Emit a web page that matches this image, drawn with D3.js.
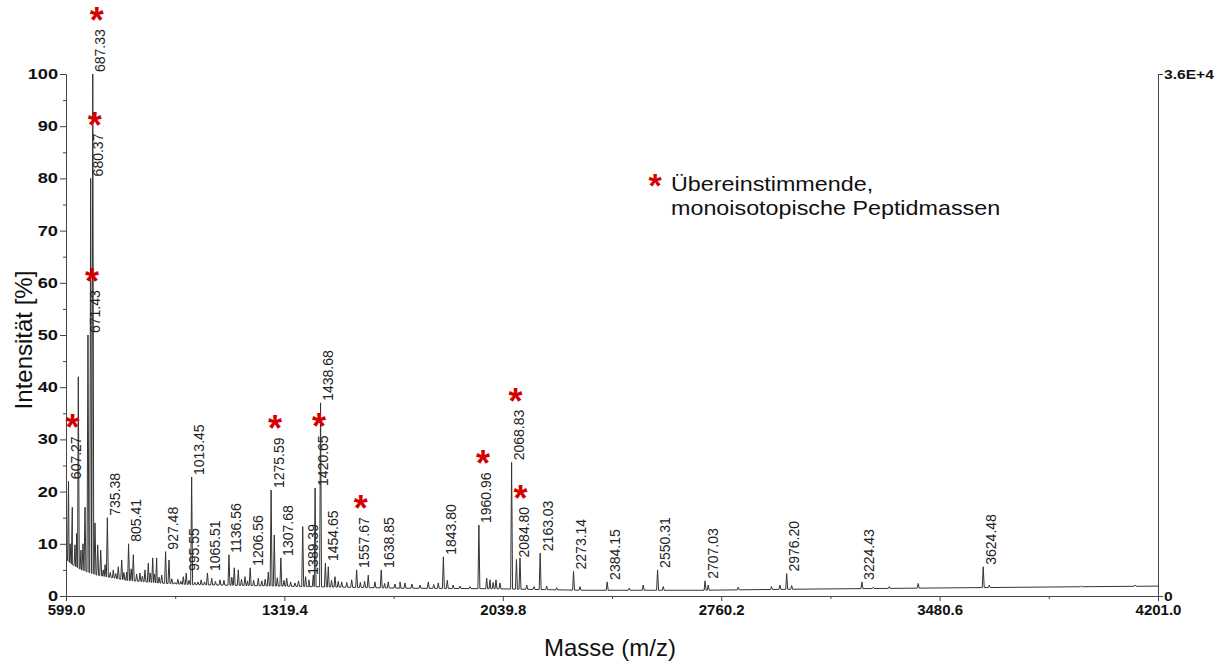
<!DOCTYPE html>
<html>
<head>
<meta charset="utf-8">
<script src="https://cdn.jsdelivr.net/npm/d3@7"></script>
<style>
  body { margin: 0; background: #fff; }
  text { font-family: "Liberation Sans", Arial, sans-serif; }
</style>
</head>
<body>
<div id="chart"></div>
<script>
// Labeled peaks (m/z) and their relative intensity (%)
var labeledMasses = [607.27, 671.43, 680.37, 687.33, 735.38, 805.41, 927.48, 995.55, 1013.45,
  1065.51, 1136.56, 1206.56, 1275.59, 1307.68, 1389.39, 1420.65, 1438.68, 1454.65, 1557.67,
  1638.85, 1843.80, 1960.96, 2068.83, 2084.80, 2163.03, 2273.14, 2384.15, 2550.31, 2707.03,
  2976.20, 3224.43, 3624.48];
var labeledHeights = [22, 50, 80, 100, 15, 10, 8.5, 4.4, 22.8,
  4.4, 7.9, 5.4, 20.3, 7.3, 3.7, 20.7, 37, 6.3, 5,
  5, 7.5, 13.6, 25.6, 7, 8.2, 4.7, 2.7, 5, 2.9,
  4.3, 2.7, 5.6];

// Unlabeled peaks
var otherMasses = [612.5, 619.8, 628.7, 634, 639.6, 648.5, 655, 661.7, 694.7, 703.6, 713.5, 722,
  728, 745, 755, 763, 771.5, 782.7, 790, 799.2, 814, 821, 832, 843, 851, 859.6, 870.5, 877,
  885, 891, 898, 906, 914.7, 938.7, 948, 958.5, 968, 978, 986, 1005, 1024, 1034.4, 1045, 1056,
  1079.6, 1092, 1107, 1120, 1146, 1154, 1167.3, 1178, 1189.4, 1198, 1218, 1233.3, 1245, 1256,
  1266.3, 1286, 1296, 1318, 1327, 1340, 1354.4, 1366, 1379.8, 1400, 1414.7, 1464.2, 1475,
  1486.3, 1497, 1508.4, 1525, 1541.4, 1570, 1584, 1596, 1618, 1650, 1662, 1684, 1700.7, 1717,
  1740, 1766.7, 1794, 1812, 1827, 1856.7, 1876, 1898.6, 1931.6, 1986.7, 1997.6, 2008, 2017.4,
  2030.5, 2096.5, 2118.7, 2142.7, 2184.6, 2217.6, 2294.4, 2457, 2503, 2569, 2717.4, 2816.4,
  2926, 2953.8, 2992.6, 3261.8, 3314.6, 3410, 3525, 3644.5, 3949, 4125];
var otherHeights = [10, 17, 9.8, 12, 42, 8.8, 10, 17, 14, 9.8, 8.8, 5,
  6, 4.5, 5, 4.3, 5.6, 6.9, 4.5, 4.6, 5.2, 7.9, 4.2, 4.4, 3.8, 5, 6.3, 4.4,
  7.3, 4.2, 7.3, 3.6, 4, 6.9, 3.3, 2.6, 3.2, 2.8, 3.7, 3, 2.6, 2.7, 3.1, 2.7,
  3.4, 2.8, 3.1, 3, 3.6, 5.4, 5, 3.2, 3.7, 2.9, 3, 3.4, 2.9, 3.2,
  4.6, 11.7, 3.5, 3, 3.4, 2.7, 2.5, 2.9, 13.3, 3.1, 4, 5.6, 3,
  3.7, 2.8, 2.7, 2.6, 3.1, 2.6, 2.8, 4, 2.7, 2.4, 2.7, 2.3, 2.7, 2.5,
  2.3, 2.1, 2.7, 2.2, 2.5, 3, 2.1, 1.9, 1.8, 3.4, 3.1, 2.6, 3.1,
  2.5, 7.3, 2.1, 1.8, 1.9, 1.6, 1.8, 1.5, 2.1, 1.8, 2.1, 1.7,
  1.8, 2.1, 2, 1.7, 1.8, 2.4, 1.6, 2.1, 1.9, 2.1];

// Noise floor of the trace
var baseMasses = [599, 620, 650, 700, 750, 800, 900, 1000, 1200, 1400, 1700, 2000, 2300, 2700, 3000, 3400, 3800, 4201];
var baseLevels = [7, 6, 5, 4, 3.5, 3, 2.5, 2.2, 2, 1.8, 1.5, 1.4, 1.1, 1.1, 1.3, 1.5, 1.7, 1.9];

// Peaks matching monoisotopic peptide masses
var matched = [607.27, 671.43, 680.37, 687.33, 1275.59, 1420.65, 1557.67, 1960.96, 2068.83, 2084.80];

var xTicks = [599.0, 1319.4, 2039.8, 2760.2, 3480.6, 4201.0];
var xMinorTicks = [959.2, 1679.6, 2400.0, 3120.4, 3840.8];
var yTicks = [0, 10, 20, 30, 40, 50, 60, 70, 80, 90, 100];
var yMinorTicks = [5, 15, 25, 35, 45, 55, 65, 75, 85, 95];
var rightTicks = [0, 36000];
var legendLines = ["Übereinstimmende,", "monoisotopische Peptidmassen"];

// Set up chart
var svgWidth = 1222;
var svgHeight = 661;
var margin = {top: 74, right: 64, bottom: 65, left: 66};
var width = svgWidth - margin.left - margin.right;
var height = svgHeight - margin.top - margin.bottom;

var svg = d3.select("#chart")
  .append("svg")
  .attr("width", svgWidth)
  .attr("height", svgHeight);

var chartGroup = svg.append("g")
  .attr("transform", `translate(${margin.left}, ${margin.top})`);

var x = d3.scaleLinear().domain([599, 4201]).range([0, width]);
var y = d3.scaleLinear().domain([0, 100]).range([height, 0]);
var yAbs = d3.scaleLinear().domain([0, 36000]).range([height, 0]);
var base = d3.scaleLinear().domain(baseMasses).range(baseLevels).clamp(true);

// stretch text sideways, like the scanned original
function widen(sel, k) {
  sel.each(function() {
    var len = this.getComputedTextLength();
    d3.select(this).attr("textLength", len * k).attr("lengthAdjust", "spacingAndGlyphs");
  });
}

// Build the trace
var peaks = [];
labeledMasses.forEach(function(m, i) { peaks.push({m: m, h: labeledHeights[i]}); });
otherMasses.forEach(function(m, i) { peaks.push({m: m, h: otherHeights[i]}); });

var pts = [];
baseMasses.forEach(function(m, i) { pts.push({m: m, v: baseLevels[i]}); });
var hw = 3.2;
peaks.forEach(function(p) {
  pts.push({m: p.m - hw, v: base(p.m - hw)});
  pts.push({m: p.m, v: p.h});
  pts.push({m: p.m + hw, v: base(p.m + hw)});
});
pts.sort(function(a, b) { return a.m - b.m; });

var line = d3.line()
  .x(d => x(d.m))
  .y(d => y(d.v));

chartGroup.append("path")
  .datum(pts)
  .attr("fill", "none")
  .attr("stroke", "#333")
  .attr("stroke-width", 1)
  .attr("d", line);

// Axes
var bottomAxis = d3.axisBottom(x).tickValues(xTicks).tickFormat(d3.format(".1f")).tickSize(5).tickSizeOuter(0).tickPadding(3);
var bottomMinor = d3.axisBottom(x).tickValues(xMinorTicks).tickFormat("").tickSize(3).tickSizeOuter(0);
var leftAxis = d3.axisLeft(y).tickValues(yTicks).tickSize(6).tickSizeOuter(0).tickPadding(2);
var leftMinor = d3.axisLeft(y).tickValues(yMinorTicks).tickFormat("").tickSize(3).tickSizeOuter(0);
var rightAxis = d3.axisRight(yAbs).tickValues(rightTicks)
  .tickFormat(d => d === 0 ? "0" : "3.6E+4").tickSize(5).tickSizeOuter(0).tickPadding(1);

var gx = chartGroup.append("g").attr("transform", `translate(0, ${height})`).call(bottomAxis);
chartGroup.append("g").attr("transform", `translate(0, ${height})`).call(bottomMinor);
var gy = chartGroup.append("g").call(leftAxis);
chartGroup.append("g").call(leftMinor);
var gr = chartGroup.append("g").attr("transform", `translate(${width}, 0)`).call(rightAxis);

chartGroup.selectAll(".domain, .tick line").attr("stroke", "#444");
gx.selectAll("text").attr("fill", "#111").style("font-size", "15px").style("font-weight", "bold");
gy.selectAll("text").attr("fill", "#111").style("font-size", "14px").style("font-weight", "bold").call(widen, 1.3);
gr.selectAll("text").attr("fill", "#111").style("font-size", "13px").style("font-weight", "bold").call(widen, 1.2);

// Peak labels
var labels = chartGroup.selectAll(".peakLabel")
  .data(labeledMasses)
  .enter()
  .append("text")
  .attr("class", "peakLabel")
  .attr("transform", (d, i) => `translate(${x(d) + 12.5}, ${y(labeledHeights[i]) - 2}) rotate(-90)`)
  .attr("fill", "#222")
  .style("font-size", "14px")
  .text(d => d.toFixed(2));

// Asterisks above the matching labels
labels.each(function(d, i) {
  if (matched.indexOf(d) < 0) return;
  var top = y(labeledHeights[i]) - 2 - this.getComputedTextLength();
  chartGroup.append("text")
    .attr("x", x(d) + 4)
    .attr("y", top - 15 + 19)
    .attr("text-anchor", "middle")
    .attr("fill", "#d40000")
    .style("font-size", "36px")
    .style("font-weight", "bold")
    .text("*");
});

// Legend
svg.append("text")
  .attr("x", 655)
  .attr("y", 178 + 19)
  .attr("text-anchor", "middle")
  .attr("fill", "#d40000")
  .style("font-size", "34px")
  .style("font-weight", "bold")
  .text("*");

svg.selectAll(".legendText")
  .data(legendLines)
  .enter()
  .append("text")
  .attr("class", "legendText")
  .attr("x", 671)
  .attr("y", (d, i) => 191 + i * 24)
  .attr("fill", "#111")
  .style("font-size", "21px")
  .text(d => d)
  .call(widen, 1.11);

// Axis titles
svg.append("text")
  .attr("x", 610)
  .attr("y", 656)
  .attr("text-anchor", "middle")
  .attr("fill", "#111")
  .style("font-size", "24px")
  .text("Masse (m/z)");

svg.append("text")
  .attr("transform", "translate(32, 340) rotate(-90)")
  .attr("text-anchor", "middle")
  .attr("fill", "#111")
  .style("font-size", "24px")
  .text("Intensität [%]");
</script>
</body>
</html>
